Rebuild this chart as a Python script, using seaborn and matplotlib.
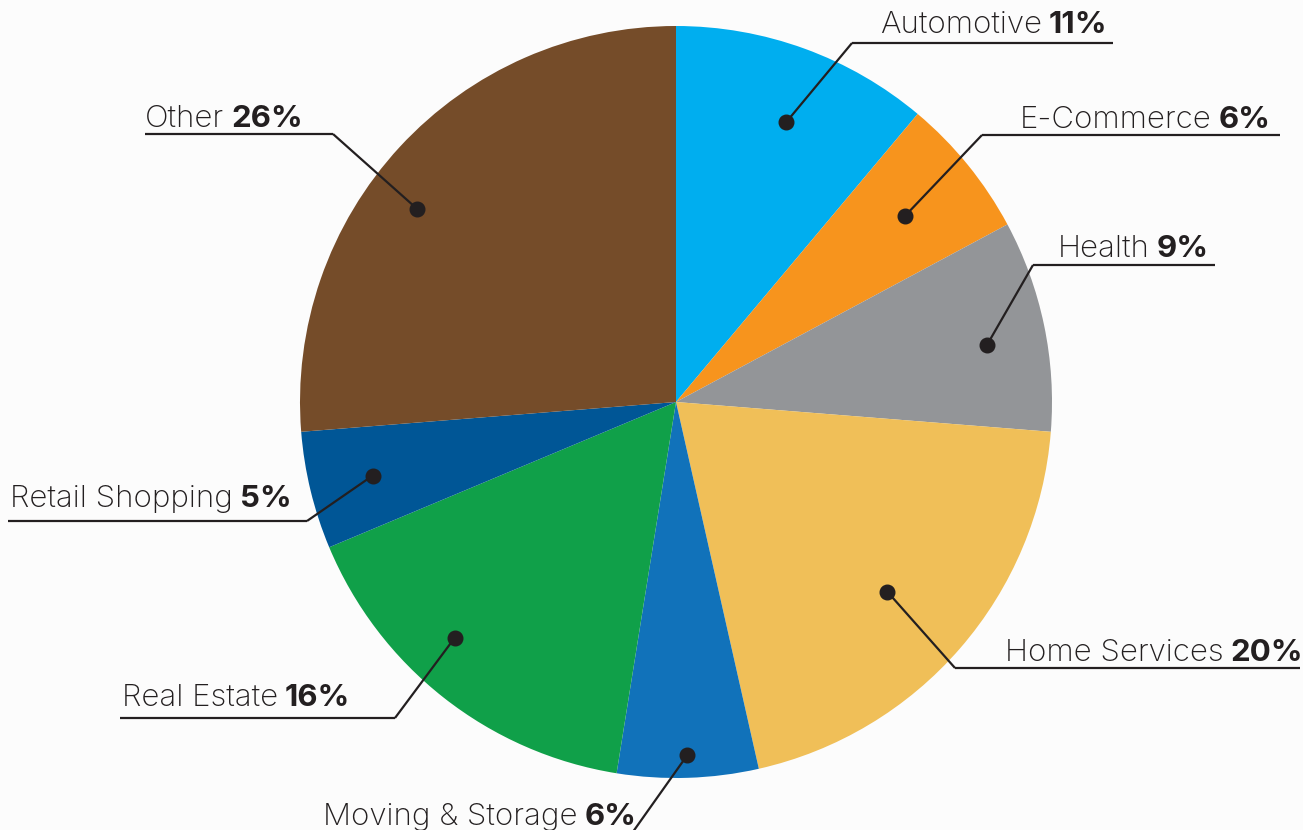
import matplotlib
matplotlib.use("Agg")
import matplotlib.pyplot as plt
import seaborn as sns
import numpy as np

# ---- data ----
categories = ["Automotive", "E-Commerce", "Health", "Home Services",
              "Moving & Storage", "Real Estate", "Retail Shopping", "Other"]
shares = [11, 6, 9, 20, 6, 16, 5, 26]
pct_labels = ["11%", "6%", "9%", "20%", "6%", "16%", "5%", "26%"]
colors = ["#00AEEF", "#F7941D", "#939598", "#F0BF58",
          "#1172BA", "#10A049", "#005696", "#754C29"]

# ---- layout (pixel coords, y measured downward from top) ----
W, H = 1303, 830
CX, CY, R = 676, 402, 376
# r: dot radius fraction, da: clockwise angular nudge of dot (deg)
layout = {
    "Automotive":       dict(r=0.80, da=1.5, tx=880,  ty=33,  uy=43,  ux0=852, ux1=1113, side="right"),
    "E-Commerce":       dict(r=0.785, da=0, tx=1020, ty=128, uy=135, ux0=982, ux1=1280, side="right"),
    "Health":           dict(r=0.84, da=1.5, tx=1058, ty=257, uy=265, ux0=1033, ux1=1215, side="right"),
    "Home Services":    dict(r=0.755, da=1, tx=1005, ty=661, uy=668, ux0=955, ux1=1300, side="right"),
    "Moving & Storage": dict(r=0.94, da=0, tx=323,  ty=825, uy=836, ux0=300, ux1=630,  side="left"),
    "Real Estate":      dict(r=0.86, da=5, tx=122,  ty=706, uy=718, ux0=120, ux1=395,  side="left"),
    "Retail Shopping":  dict(r=0.83, da=0, tx=10,   ty=507, uy=521, ux0=8,   ux1=307,  side="left"),
    "Other":            dict(r=0.86, da=-6, tx=145,  ty=127, uy=134, ux0=145, ux1=333,  side="left"),
}

sns.set_theme(style="white")
plt.rcParams["font.family"] = ["Inter", "DejaVu Sans"]

BG = "#FCFCFC"
INK = "#231F20"
FS = 22.5

fig = plt.figure(figsize=(W / 100, H / 100), dpi=100, facecolor=BG)
ax = fig.add_axes([0, 0, 1, 1])
ax.set_facecolor(BG)

pal = sns.color_palette(colors)
wedges, _ = ax.pie(shares, colors=pal, startangle=90, counterclock=False,
                   center=(CX, H - CY), radius=R,
                   wedgeprops=dict(linewidth=0, antialiased=True))
ax.set_xlim(0, W)
ax.set_ylim(0, H)
ax.set_aspect("equal")
ax.axis("off")

renderer = fig.canvas.get_renderer()

for w, cat, pct in zip(wedges, categories, pct_labels):
    L = layout[cat]
    mid = np.deg2rad((w.theta1 + w.theta2) / 2 - L["da"])
    dx = CX + L["r"] * R * np.cos(mid)
    dy = (H - CY) + L["r"] * R * np.sin(mid)
    uy = H - L["uy"]
    ex = L["ux0"] if L["side"] == "right" else L["ux1"]
    ax.plot([dx, ex], [dy, uy], color=INK, lw=1.6, solid_capstyle="butt",
            zorder=5, clip_on=False)
    ax.plot([L["ux0"], L["ux1"]], [uy, uy], color=INK, lw=1.6,
            solid_capstyle="butt", zorder=5, clip_on=False)
    ax.plot([dx], [dy], "o", color=INK, markersize=10.5, zorder=6)
    t = ax.text(L["tx"], H - L["ty"], cat, fontsize=FS, fontweight="light",
                color=INK, ha="left", va="baseline", zorder=7)
    bb = t.get_window_extent(renderer=renderer)
    ax.text(bb.x1 + 7, H - L["ty"], pct, fontsize=FS, fontweight="bold",
            color=INK, ha="left", va="baseline", zorder=7)

fig.savefig("out.png", dpi=100, facecolor=BG)
